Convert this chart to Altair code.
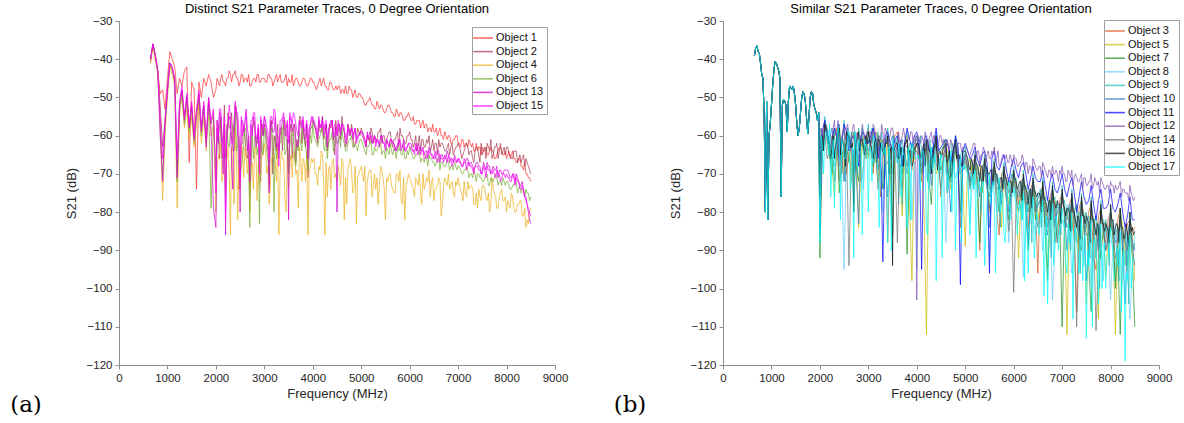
import altair as alt
import pandas as pd

# ---------------- frequency grids (MHz) ----------------
freq_low_a = list(range(650, 2000, 50))    # left panel, 27 pts
freq_low_b = list(range(650, 2000, 25))    # right panel, 54 pts
freq_high = list(range(2000, 8501, 100))   # 66 pts
freq_mid = list(range(2050, 8500, 100))    # 65 pts
freq_q = list(range(2025, 8500, 50))       # 130 pts

# ---------------- left panel: distinct traces ----------------
obj1_low = [-41, -36, -40, -43, -49, -48, -53, -45, -38, -40, -42, -49, -45, -47, -43, -42, -67, -46, -48, -74, -46, -50, -45, -47, -44, -46, -50]
obj1_high = [-48, -45, -47, -44, -43, -46, -45, -47, -45, -46,
             -45, -44, -46, -45, -46, -45, -47, -46, -45, -47,
             -46, -47, -46, -48, -47, -48, -48, -49, -48, -50,
             -50, -52, -51, -53, -52, -54, -53, -55, -54, -56,
             -55, -57, -56, -58, -58, -59, -59, -61, -60, -61,
             -62, -61, -63, -62, -64, -63, -65, -64, -65, -64,
             -66, -65, -67, -68, -70, -72]
obj1_mid = [-46, -46, -45, -44, -45, -44, -46, -46, -44, -45,
            -46, -45, -44, -46, -44, -46, -45, -47, -46, -45,
            -47, -45, -47, -46, -48, -47, -49, -47, -49, -49,
            -51, -51, -52, -52, -53, -52, -54, -54, -55, -55,
            -56, -56, -57, -57, -59, -58, -60, -60, -62, -60,
            -63, -62, -62, -64, -63, -64, -64, -66, -63, -65,
            -64, -66, -66, -69, -71]
obj1_q = [-45, -47, -44, -46, -45, -43, -46, -44, -45, -47, -44, -46, -45, -44, -47, -45, -46, -44, -46, -45,
          -46, -44, -45, -47, -45, -46, -44, -46, -45, -47, -46, -44, -46, -45, -47, -46, -45, -47, -46, -45,
          -46, -48, -46, -47, -45, -47, -48, -46, -48, -47, -47, -49, -48, -47, -49, -48, -50, -48, -50, -49,
          -50, -52, -51, -50, -52, -53, -51, -53, -52, -54, -53, -52, -54, -55, -53, -55, -54, -56, -55, -54,
          -56, -55, -57, -56, -58, -56, -57, -59, -58, -57, -59, -60, -58, -60, -59, -61, -60, -62, -61, -60,
          -62, -61, -63, -62, -61, -63, -64, -62, -63, -65, -64, -63, -65, -63, -64, -66, -64, -63, -65, -64,
          -65, -66, -64, -66, -67, -66, -68, -67, -70, -71]
obj2_low = [-40, -36, -39, -43, -52, -63, -56, -48, -41, -43, -45, -70, -52, -48, -55, -50, -57, -52, -60, -54, -49, -58, -52, -61, -50, -57, -54]
obj2_high = [-72, -55, -66, -58, -52, -70, -60, -76, -58, -68,
             -57, -73, -60, -66, -56, -69, -58, -63, -57, -71,
             -56, -62, -55, -64, -56, -60, -55, -62, -57, -61,
             -58, -63, -58, -61, -58, -62, -59, -61, -58, -62,
             -59, -62, -60, -63, -60, -64, -61, -63, -62, -65,
             -62, -65, -63, -66, -63, -65, -62, -66, -62, -65,
             -63, -66, -64, -67, -66, -70]
obj2_mid = [-58, -62, -54, -64, -57, -62, -66, -59, -62, -57,
            -62, -56, -64, -58, -61, -57, -67, -55, -63, -58,
            -58, -59, -60, -57, -65, -57, -59, -58, -63, -59,
            -60, -60, -62, -59, -60, -60, -63, -59, -60, -60,
            -61, -64, -61, -61, -63, -62, -62, -64, -63, -63,
            -64, -63, -64, -64, -67, -63, -64, -63, -64, -63,
            -65, -64, -66, -65, -68]
obj2_q = [-56, -66, -60, -52, -62, -58, -54, -64, -55, -74, -62, -57, -65, -60, -68, -56, -61, -58, -72, -60,
          -59, -64, -58, -70, -62, -57, -60, -64, -56, -62, -59, -66, -57, -61, -55, -62, -60, -57, -64, -58,
          -57, -60, -56, -59, -61, -57, -62, -58, -60, -56, -59, -61, -58, -63, -57, -60, -59, -62, -58, -60,
          -59, -61, -60, -62, -59, -60, -61, -59, -62, -60, -61, -59, -62, -61, -60, -63, -60, -61, -62, -60,
          -61, -63, -60, -62, -64, -61, -63, -62, -64, -61, -62, -65, -63, -62, -64, -63, -65, -62, -64, -63,
          -63, -66, -64, -62, -65, -64, -67, -63, -65, -62, -64, -66, -63, -61, -65, -63, -66, -62, -64, -65,
          -63, -65, -66, -64, -67, -65, -66, -68, -67, -69]
obj4_low = [-41, -37, -40, -44, -58, -77, -60, -50, -42, -44, -47, -79, -55, -50, -58, -53, -61, -55, -63, -57, -52, -62, -55, -64, -53, -60, -57]
obj4_high = [-80, -62, -75, -86, -58, -74, -63, -80, -64, -73,
             -62, -78, -65, -86, -66, -74, -64, -79, -66, -86,
             -67, -73, -65, -76, -67, -72, -66, -78, -69, -83,
             -68, -81, -69, -74, -68, -82, -70, -75, -69, -82,
             -71, -76, -70, -74, -69, -77, -71, -73, -70, -75,
             -71, -77, -72, -74, -79, -73, -77, -71, -79, -74,
             -80, -75, -80, -77, -84, -79]
obj4_mid = [-66, -70, -63, -68, -82, -64, -70, -67, -77, -65,
            -70, -66, -72, -64, -80, -65, -70, -66, -72, -68,
            -70, -69, -86, -68, -71, -70, -82, -67, -74, -70,
            -72, -70, -73, -78, -71, -72, -74, -70, -78, -72,
            -73, -72, -78, -71, -72, -74, -81, -72, -73, -72,
            -74, -75, -73, -78, -76, -74, -80, -75, -76, -77,
            -78, -79, -78, -81, -83]
obj4_q = [-68, -64, -72, -62, -66, -70, -63, -78, -65, -68, -62, -71, -66, -64, -69, -74, -63, -67, -70, -65,
          -64, -68, -73, -65, -67, -62, -70, -66, -76, -64, -68, -71, -65, -69, -63, -72, -67, -64, -70, -66,
          -66, -70, -68, -64, -72, -67, -69, -74, -66, -70, -68, -73, -67, -71, -69, -66, -75, -68, -71, -69,
          -70, -68, -72, -69, -76, -70, -71, -73, -69, -74, -71, -70, -73, -75, -70, -72, -77, -71, -73, -70,
          -72, -74, -71, -73, -75, -70, -73, -72, -76, -71, -74, -73, -72, -78, -71, -73, -74, -72, -76, -73,
          -73, -75, -72, -76, -74, -73, -78, -75, -74, -77, -73, -76, -75, -78, -74, -76, -79, -75, -77, -76,
          -77, -79, -76, -80, -78, -77, -81, -79, -82, -80]
obj6_low = [-40, -36, -39, -43, -56, -71, -58, -49, -41, -43, -46, -72, -53, -49, -57, -51, -59, -53, -62, -55, -50, -60, -53, -62, -52, -79, -56]
obj6_high = [-68, -56, -78, -59, -54, -71, -58, -84, -60, -83,
             -58, -70, -80, -62, -57, -70, -59, -64, -58, -69,
             -57, -63, -58, -66, -59, -62, -58, -64, -60, -63,
             -61, -65, -61, -64, -62, -66, -62, -64, -63, -66,
             -63, -66, -64, -67, -65, -67, -66, -68, -67, -69,
             -68, -70, -69, -71, -70, -72, -70, -72, -71, -73,
             -72, -74, -72, -75, -74, -76]
obj6_mid = [-60, -64, -62, -57, -62, -66, -63, -60, -65, -62,
            -64, -58, -66, -61, -64, -60, -68, -62, -63, -60,
            -61, -60, -64, -61, -63, -60, -62, -61, -63, -62,
            -63, -63, -65, -63, -64, -64, -65, -63, -65, -64,
            -65, -65, -66, -66, -66, -67, -67, -68, -68, -68,
            -69, -69, -70, -70, -71, -71, -73, -71, -72, -72,
            -73, -73, -74, -74, -75]
obj6_q = [-62, -58, -66, -60, -57, -63, -61, -59, -64, -60, -68, -62, -59, -64, -61, -66, -60, -63, -58, -65,
          -61, -66, -59, -63, -60, -64, -62, -58, -65, -61, -63, -60, -66, -62, -59, -64, -61, -65, -60, -62,
          -60, -62, -61, -59, -63, -60, -62, -61, -64, -60, -62, -63, -61, -64, -62, -61, -63, -62, -64, -61,
          -62, -64, -63, -62, -65, -63, -64, -62, -65, -64, -63, -65, -64, -63, -66, -64, -65, -63, -66, -65,
          -64, -66, -65, -64, -67, -66, -65, -68, -66, -67, -68, -66, -69, -67, -68, -66, -69, -68, -67, -69,
          -68, -70, -69, -68, -71, -70, -69, -72, -70, -71, -72, -70, -73, -71, -72, -70, -73, -72, -71, -73,
          -72, -74, -73, -72, -75, -73, -74, -76, -75, -77]
obj13_low = [-40, -36, -39, -43, -60, -72, -57, -48, -41, -42, -46, -71, -52, -48, -56, -50, -58, -52, -61, -54, -49, -59, -52, -63, -51, -58, -79]
obj13_high = [-84, -54, -86, -56, -52, -80, -57, -72, -56, -66,
              -55, -75, -59, -64, -55, -82, -57, -62, -56, -66,
              -55, -61, -55, -63, -56, -80, -57, -62, -58, -61,
              -59, -63, -60, -62, -60, -64, -61, -63, -61, -64,
              -62, -64, -63, -65, -63, -66, -64, -66, -65, -67,
              -66, -68, -66, -68, -67, -69, -67, -69, -68, -70,
              -69, -71, -70, -73, -76, -83]
obj13_mid = [-62, -70, -58, -74, -60, -56, -64, -60, -62, -58,
             -60, -57, -63, -58, -60, -56, -61, -57, -60, -57,
             -58, -57, -59, -57, -60, -57, -59, -60, -60, -60,
             -61, -61, -61, -61, -62, -62, -62, -62, -63, -63,
             -63, -64, -64, -64, -65, -65, -65, -66, -66, -66,
             -67, -67, -67, -68, -68, -68, -68, -69, -69, -69,
             -70, -70, -72, -74, -80]
obj13_q = [-58, -54, -64, -57, -60, -55, -68, -58, -53, -61, -56, -59, -54, -62, -57, -55, -63, -58, -56, -60,
           -57, -61, -56, -59, -55, -62, -58, -56, -60, -57, -55, -59, -57, -63, -56, -58, -61, -57, -59, -56,
           -57, -59, -56, -58, -60, -57, -59, -56, -61, -58, -57, -60, -58, -62, -57, -59, -61, -58, -60, -59,
           -60, -62, -59, -61, -62, -60, -61, -63, -60, -62, -61, -63, -61, -62, -64, -62, -63, -61, -64, -62,
           -62, -64, -63, -62, -65, -63, -64, -66, -64, -65, -66, -64, -67, -65, -66, -64, -67, -66, -65, -67,
           -66, -68, -67, -66, -68, -67, -69, -67, -68, -70, -67, -69, -68, -70, -68, -69, -71, -69, -70, -69,
           -69, -71, -70, -72, -71, -73, -72, -76, -78, -82]
obj15_low = [-40, -36, -39, -43, -55, -66, -56, -48, -41, -42, -45, -66, -51, -47, -55, -49, -57, -51, -60, -53, -48, -58, -51, -61, -50, -56, -53]
obj15_high = [-75, -53, -82, -55, -51, -72, -56, -68, -54, -70,
              -55, -66, -53, -68, -54, -62, -54, -60, -55, -63,
              -56, -60, -56, -61, -56, -60, -57, -61, -58, -62,
              -59, -62, -60, -63, -61, -63, -61, -64, -62, -64,
              -63, -65, -63, -66, -64, -66, -65, -67, -65, -67,
              -66, -68, -67, -69, -68, -70, -68, -70, -69, -71,
              -70, -72, -71, -74, -77, -81]
obj15_mid = [-60, -66, -57, -62, -54, -60, -58, -56, -60, -57,
             -58, -55, -60, -56, -58, -55, -57, -56, -58, -57,
             -57, -58, -57, -58, -57, -58, -58, -59, -59, -60,
             -60, -61, -61, -62, -62, -62, -62, -63, -63, -63,
             -64, -64, -64, -65, -65, -66, -66, -66, -66, -67,
             -67, -67, -68, -68, -69, -69, -69, -70, -70, -70,
             -71, -71, -72, -75, -79]
obj15_q = [-56, -53, -60, -55, -58, -52, -62, -56, -54, -59, -55, -57, -53, -60, -56, -54, -61, -57, -55, -58,
           -56, -59, -55, -57, -54, -60, -56, -55, -58, -56, -54, -57, -55, -59, -56, -57, -59, -56, -58, -55,
           -56, -58, -55, -57, -59, -56, -58, -57, -60, -57, -56, -59, -57, -60, -58, -59, -60, -58, -61, -59,
           -59, -61, -60, -59, -62, -60, -61, -62, -60, -62, -61, -63, -61, -62, -63, -61, -64, -62, -63, -62,
           -63, -64, -62, -65, -63, -64, -66, -64, -65, -66, -64, -67, -65, -66, -65, -67, -66, -68, -66, -67,
           -67, -68, -66, -69, -67, -68, -70, -68, -69, -70, -68, -71, -69, -70, -69, -71, -70, -72, -70, -71,
           -71, -72, -70, -73, -72, -74, -73, -76, -78, -80]

names_a = ["Object 1", "Object 2", "Object 4", "Object 6", "Object 13", "Object 15"]
colors_a = ["#ff3030", "#a8384f", "#edb120", "#77ac30", "#d000d0", "#ff00ff"]
lows_a = [obj1_low, obj2_low, obj4_low, obj6_low, obj13_low, obj15_low]
highs_a = [obj1_high, obj2_high, obj4_high, obj6_high, obj13_high, obj15_high]
mids_a = [obj1_mid, obj2_mid, obj4_mid, obj6_mid, obj13_mid, obj15_mid]
qs_a = [obj1_q, obj2_q, obj4_q, obj6_q, obj13_q, obj15_q]

# ---------------- right panel: similar traces ----------------
common_low_b = [-39, -37, -36.5, -38, -38.5, -41, -44, -45, -55, -80,
                -51, -82, -60, -57, -52, -47, -43, -40.5, -41, -42,
                -43, -45, -76, -52, -50.5, -51, -52, -59, -51, -47,
                -47.5, -48, -47, -49, -52, -57, -60, -58, -54, -50,
                -48.5, -49, -51, -55.5, -59.5, -55, -50, -48.5, -49, -52,
                -53, -54, -56, -54]
obj3_high = [-86, -56, -66, -60, -72, -57, -64, -78, -59, -68,
             -58, -70, -60, -66, -88, -62, -59, -74, -61, -69,
             -60, -72, -62, -67, -61, -76, -63, -68, -62, -84,
             -65, -72, -66, -90, -67, -74, -68, -86, -69, -75,
             -70, -78, -71, -84, -72, -96, -73, -80, -74, -88,
             -75, -82, -76, -106, -77, -84, -78, -95, -79, -88,
             -80, -98, -79, -86, -82, -84]
obj3_mid = [-60, -62, -65, -58, -61, -70, -60, -62, -72, -61,
            -63, -59, -76, -61, -64, -60, -68, -62, -65, -62,
            -65, -64, -70, -63, -66, -65, -74, -64, -67, -66,
            -68, -67, -74, -68, -70, -69, -80, -70, -72, -71,
            -73, -72, -76, -74, -78, -75, -84, -76, -79, -77,
            -80, -78, -88, -79, -82, -80, -92, -81, -84, -82,
            -86, -82, -90, -83, -85]
obj5_high = [-82, -57, -63, -76, -58, -70, -61, -65, -84, -60,
             -66, -59, -72, -63, -60, -70, -64, -81, -60, -98,
             -62, -68, -112, -63, -70, -65, -61, -74, -64, -71,
             -89, -66, -73, -67, -70, -80, -68, -74, -70, -78,
             -71, -92, -72, -76, -73, -82, -74, -95, -75, -80,
             -76, -112, -78, -86, -77, -104, -79, -90, -80, -97,
             -81, -112, -80, -92, -83, -98]
obj5_mid = [-61, -60, -68, -62, -64, -59, -72, -63, -66, -62,
            -62, -65, -61, -68, -63, -66, -70, -62, -78, -64,
            -65, -80, -64, -66, -68, -63, -67, -69, -66, -73,
            -68, -70, -69, -75, -70, -72, -71, -84, -72, -74,
            -74, -77, -73, -80, -75, -78, -76, -84, -77, -80,
            -79, -82, -80, -90, -81, -85, -82, -108, -83, -86,
            -85, -88, -84, -96, -86]
obj7_high = [-92, -60, -65, -58, -75, -62, -67, -59, -72, -63,
             -61, -68, -60, -74, -62, -86, -63, -70, -91, -62,
             -64, -70, -63, -78, -62, -69, -65, -72, -64, -80,
             -67, -73, -68, -88, -69, -76, -70, -80, -71, -82,
             -72, -80, -73, -90, -74, -78, -75, -98, -76, -84,
             -110, -79, -85, -78, -90, -80, -106, -81, -92, -82,
             -83, -100, -112, -86, -84, -110]
obj7_mid = [-64, -61, -70, -60, -66, -63, -61, -68, -62, -66,
            -63, -64, -68, -62, -66, -64, -67, -63, -68, -64,
            -66, -65, -71, -64, -67, -66, -70, -65, -68, -67,
            -69, -70, -72, -71, -74, -72, -75, -73, -77, -74,
            -76, -75, -80, -76, -82, -77, -85, -78, -88, -80,
            -82, -84, -80, -88, -82, -94, -83, -86, -84, -88,
            -86, -90, -88, -94, -92]
obj8_high = [-80, -62, -58, -68, -61, -95, -59, -66, -63, -74,
             -60, -67, -62, -80, -61, -70, -63, -66, -64, -82,
             -95, -64, -70, -63, -68, -65, -88, -66, -71, -65,
             -68, -83, -69, -75, -70, -92, -71, -76, -72, -88,
             -73, -79, -97, -74, -81, -75, -90, -76, -103, -77,
             -82, -78, -96, -79, -88, -80, -100, -81, -86, -82,
             -103, -83, -90, -84, -108, -86]
obj8_mid = [-63, -60, -64, -62, -70, -61, -64, -60, -66, -62,
            -63, -61, -68, -62, -65, -63, -72, -64, -66, -67,
            -68, -66, -74, -64, -67, -66, -70, -67, -68, -69,
            -70, -71, -76, -72, -74, -73, -80, -74, -76, -75,
            -77, -78, -82, -79, -86, -80, -84, -81, -90, -82,
            -84, -86, -90, -84, -94, -85, -88, -86, -98, -87,
            -88, -92, -89, -96, -94]
obj9_high = [-86, -55, -63, -59, -67, -56, -62, -70, -58, -65,
             -57, -64, -59, -72, -58, -63, -60, -78, -59, -66,
             -60, -65, -61, -70, -59, -64, -62, -68, -60, -66,
             -63, -70, -64, -74, -65, -71, -66, -78, -67, -72,
             -68, -74, -69, -80, -70, -76, -71, -84, -72, -78,
             -73, -80, -74, -88, -75, -82, -76, -92, -77, -84,
             -78, -86, -79, -94, -80, -88]
obj9_mid = [-60, -58, -62, -61, -60, -66, -59, -62, -61, -60,
            -61, -60, -63, -61, -66, -62, -64, -63, -62, -61,
            -62, -63, -64, -62, -66, -63, -65, -64, -63, -64,
            -66, -67, -68, -69, -68, -70, -70, -71, -72, -70,
            -71, -72, -73, -74, -75, -74, -76, -77, -76, -78,
            -77, -78, -79, -80, -80, -81, -82, -83, -82, -84,
            -82, -84, -86, -85, -88]
obj9_q = [-58, -64, -57, -62, -68, -59, -63, -57, -66, -60, -72, -58, -62, -65, -59, -70, -61, -58, -64, -60,
          -62, -58, -67, -60, -64, -59, -74, -61, -63, -66, -60, -62, -78, -61, -65, -60, -68, -62, -64, -61,
          -63, -60, -66, -62, -72, -61, -64, -67, -62, -70, -63, -61, -75, -64, -62, -68, -63, -66, -64, -69,
          -65, -70, -66, -74, -67, -69, -80, -68, -72, -70, -76, -69, -73, -71, -84, -70, -74, -72, -78, -71,
          -72, -76, -73, -82, -74, -77, -75, -88, -74, -79, -76, -84, -77, -80, -78, -92, -77, -82, -79, -86,
          -78, -84, -80, -90, -79, -86, -81, -96, -80, -85, -82, -92, -81, -88, -83, -100, -82, -87, -84, -94,
          -83, -90, -85, -98, -84, -92, -86, -104, -85, -90]
obj10_high = [-84, -58, -61, -65, -57, -72, -60, -64, -83, -61,
              -64, -58, -69, -62, -76, -60, -66, -61, -70, -63,
              -61, -68, -62, -73, -60, -66, -63, -80, -62, -69,
              -65, -72, -66, -70, -67, -84, -68, -73, -69, -80,
              -70, -76, -71, -88, -72, -78, -73, -86, -74, -80,
              -75, -90, -76, -83, -77, -98, -78, -85, -79, -90,
              -80, -88, -81, -104, -82, -90]
obj10_mid = [-64, -60, -58, -62, -66, -61, -63, -70, -60, -62,
             -61, -63, -64, -68, -62, -64, -63, -66, -64, -62,
             -64, -63, -66, -64, -68, -65, -70, -66, -65, -67,
             -68, -69, -70, -72, -71, -74, -72, -78, -73, -74,
             -75, -74, -78, -76, -80, -77, -82, -78, -84, -79,
             -80, -82, -81, -86, -82, -88, -83, -90, -84, -86,
             -85, -87, -90, -86, -88]
obj11_high = [-70, -56, -62, -58, -66, -57, -64, -60, -68, -59,
              -62, -58, -66, -93, -59, -64, -60, -68, -58, -63,
              -59, -95, -60, -66, -58, -63, -61, -67, -60, -99,
              -62, -66, -63, -68, -64, -96, -64, -69, -65, -72,
              -66, -71, -67, -74, -68, -72, -69, -77, -70, -75,
              -70, -76, -71, -80, -72, -78, -73, -82, -74, -79,
              -74, -80, -75, -84, -76, -82]
obj11_mid = [-59, -60, -61, -60, -62, -59, -61, -63, -60, -62,
             -60, -61, -62, -60, -62, -61, -63, -62, -61, -60,
             -62, -61, -63, -62, -64, -62, -63, -64, -63, -64,
             -64, -65, -66, -65, -67, -66, -68, -67, -69, -68,
             -69, -68, -70, -71, -71, -72, -73, -72, -74, -73,
             -74, -73, -75, -76, -76, -77, -78, -77, -79, -78,
             -79, -78, -80, -81, -82]
obj12_high = [-74, -57, -63, -56, -68, -58, -62, -57, -64, -59,
              -60, -57, -65, -59, -62, -58, -67, -60, -63, -59,
              -103, -60, -64, -59, -62, -60, -65, -61, -63, -62,
              -63, -65, -62, -67, -64, -66, -63, -68, -65, -67,
              -65, -68, -66, -70, -66, -69, -67, -71, -68, -70,
              -68, -72, -69, -71, -70, -73, -70, -72, -71, -74,
              -72, -73, -72, -75, -73, -76]
obj12_mid = [-60, -59, -61, -60, -62, -58, -61, -60, -61, -60,
             -59, -60, -61, -58, -60, -61, -62, -60, -61, -60,
             -61, -62, -61, -60, -62, -61, -62, -63, -62, -63,
             -64, -63, -64, -65, -65, -64, -66, -66, -65, -66,
             -66, -67, -67, -68, -68, -68, -69, -69, -70, -69,
             -70, -70, -71, -72, -71, -72, -73, -72, -73, -73,
             -73, -74, -74, -75, -76]
obj12_q = [-58, -61, -57, -60, -63, -58, -60, -56, -62, -59, -61, -57, -64, -58, -60, -59, -62, -57, -61, -59,
           -59, -62, -58, -61, -60, -57, -63, -59, -61, -58, -60, -62, -59, -61, -58, -63, -60, -59, -62, -60,
           -60, -62, -61, -59, -63, -60, -62, -61, -64, -60, -62, -63, -61, -64, -62, -63, -65, -62, -64, -63,
           -63, -65, -64, -62, -66, -64, -65, -63, -67, -64, -66, -65, -67, -64, -68, -65, -66, -67, -65, -68,
           -66, -68, -67, -65, -69, -67, -68, -70, -67, -69, -68, -71, -68, -70, -69, -71, -70, -69, -72, -70,
           -70, -72, -69, -71, -73, -70, -72, -71, -74, -71, -73, -72, -74, -71, -73, -75, -72, -74, -73, -75,
           -73, -75, -74, -73, -76, -74, -75, -77, -75, -77]
obj14_high = [-78, -60, -64, -72, -58, -63, -94, -60, -66, -62,
              -65, -60, -74, -61, -67, -62, -88, -63, -68, -64,
              -62, -70, -63, -66, -62, -74, -64, -68, -63, -70,
              -66, -74, -67, -76, -68, -79, -69, -74, -70, -85,
              -101, -74, -72, -80, -73, -84, -74, -82, -75, -88,
              -76, -84, -77, -110, -78, -86, -79, -111, -80, -90,
              -81, -92, -82, -88, -83, -94]
obj14_mid = [-62, -66, -60, -64, -70, -62, -65, -63, -61, -64,
             -62, -64, -63, -68, -64, -66, -65, -64, -66, -65,
             -65, -64, -67, -65, -68, -66, -70, -66, -67, -68,
             -69, -70, -71, -72, -73, -72, -74, -73, -76, -74,
             -78, -76, -77, -79, -78, -80, -79, -82, -80, -83,
             -81, -83, -82, -88, -83, -86, -84, -92, -85, -88,
             -86, -88, -87, -90, -89]
obj16_high = [-76, -57, -62, -66, -58, -64, -60, -80, -59, -63,
              -59, -66, -61, -64, -60, -94, -62, -66, -61, -68,
              -62, -66, -61, -70, -60, -65, -62, -71, -61, -67,
              -64, -69, -65, -72, -66, -70, -67, -74, -68, -72,
              -69, -73, -70, -78, -71, -75, -72, -80, -73, -77,
              -74, -79, -75, -84, -76, -81, -77, -86, -78, -83,
              -78, -84, -79, -86, -80, -85]
obj16_mid = [-60, -59, -63, -61, -62, -59, -63, -62, -61, -60,
             -62, -61, -63, -62, -64, -63, -65, -62, -64, -63,
             -63, -62, -64, -63, -65, -63, -66, -64, -65, -64,
             -66, -67, -68, -68, -69, -69, -70, -71, -71, -72,
             -72, -72, -74, -74, -75, -76, -77, -77, -78, -78,
             -79, -80, -80, -82, -81, -83, -82, -84, -83, -85,
             -82, -84, -84, -86, -84]
obj16_q = [-60, -64, -58, -62, -66, -60, -63, -59, -65, -61, -68, -60, -63, -62, -66, -60, -64, -61, -65, -62,
           -61, -64, -62, -67, -61, -63, -65, -62, -70, -63, -64, -62, -66, -63, -68, -62, -65, -64, -67, -63,
           -62, -65, -63, -68, -62, -64, -66, -63, -69, -64, -65, -63, -67, -64, -70, -63, -66, -65, -68, -64,
           -65, -68, -66, -70, -67, -69, -68, -72, -68, -70, -69, -73, -70, -72, -71, -74, -71, -73, -72, -75,
           -71, -74, -72, -77, -73, -75, -74, -79, -74, -76, -75, -80, -76, -78, -77, -82, -77, -79, -78, -83,
           -78, -81, -79, -85, -80, -82, -81, -87, -81, -83, -82, -88, -82, -84, -83, -89, -83, -85, -84, -88,
           -82, -86, -83, -88, -84, -87, -83, -89, -85, -86]
obj17_high = [-88, -62, -57, -79, -60, -66, -59, -92, -61, -68,
              -80, -60, -70, -62, -88, -61, -67, -63, -84, -62,
              -66, -64, -85, -63, -98, -65, -70, -64, -90, -66,
              -68, -86, -69, -74, -94, -70, -76, -71, -86, -72,
              -74, -80, -75, -96, -76, -82, -77, -104, -78, -84,
              -79, -96, -80, -88, -81, -113, -82, -90, -83, -100,
              -84, -96, -85, -119, -86, -92]
obj17_mid = [-63, -59, -66, -62, -61, -64, -72, -62, -65, -63,
             -64, -62, -66, -63, -70, -64, -66, -65, -68, -64,
             -66, -65, -70, -66, -68, -67, -74, -67, -69, -68,
             -70, -72, -74, -73, -78, -74, -82, -75, -79, -76,
             -78, -80, -82, -81, -86, -82, -90, -83, -88, -84,
             -85, -88, -86, -96, -87, -94, -88, -104, -89, -92,
             -90, -94, -92, -98, -95]
obj17_q = [-60, -70, -59, -65, -76, -61, -64, -58, -82, -62, -66, -60, -74, -63, -59, -68, -62, -86, -61, -64,
           -63, -72, -61, -66, -84, -62, -65, -70, -63, -90, -64, -67, -62, -76, -65, -68, -63, -82, -64, -66,
           -65, -74, -64, -68, -86, -66, -69, -65, -78, -67, -92, -66, -70, -68, -80, -67, -72, -69, -88, -68,
           -69, -78, -70, -74, -92, -71, -75, -72, -86, -73, -78, -72, -96, -74, -80, -75, -88, -74, -82, -76,
           -76, -86, -77, -82, -98, -78, -84, -79, -92, -80, -86, -79, -102, -81, -88, -82, -94, -81, -90, -83,
           -82, -94, -83, -88, -108, -84, -92, -85, -98, -86, -90, -85, -110, -87, -94, -86, -100, -88, -92, -87,
           -88, -98, -89, -94, -106, -90, -96, -88, -100, -92]

names_b = ["Object 3", "Object 5", "Object 7", "Object 8", "Object 9", "Object 10",
           "Object 11", "Object 12", "Object 14", "Object 16", "Object 17"]
colors_b = ["#d95319", "#ccbb00", "#209020", "#66ccff", "#20b8b8", "#2878c0",
            "#0000ff", "#8050b0", "#707070", "#101010", "#00ffff"]
highs_b = [obj3_high, obj5_high, obj7_high, obj8_high, obj9_high, obj10_high,
           obj11_high, obj12_high, obj14_high, obj16_high, obj17_high]
mids_b = [obj3_mid, obj5_mid, obj7_mid, obj8_mid, obj9_mid, obj10_mid,
          obj11_mid, obj12_mid, obj14_mid, obj16_mid, obj17_mid]
qs_b = [None, None, None, None, obj9_q, None, None, obj12_q, None, obj16_q, obj17_q]

FONT = "Liberation Sans"
OPA = 0.7


def panel(names, colors, lows, highs, mids, qs, freq_low, title, lx, ly, tag):
    x_enc = alt.X("freq:Q", scale=alt.Scale(domain=[0, 9000], nice=False),
                  axis=alt.Axis(values=list(range(0, 9001, 1000)), format="d", labelFlush=False,
                                title="Frequency (MHz)"))
    y_enc = alt.Y("val:Q", scale=alt.Scale(domain=[-120, -30], nice=False),
                  axis=alt.Axis(values=list(range(-120, -29, 10)), format="d", title="S21 (dB)"))
    c_enc = alt.Color("obj:N", scale=alt.Scale(domain=names, range=colors),
                      legend=alt.Legend(orient="none", legendX=lx, legendY=ly, title=None,
                                        fillColor="white", strokeColor="#a0a0a0", padding=3,
                                        labelFont=FONT, labelFontSize=11, labelColor="#111111",
                                        symbolType="M-1.45,0H1.45", symbolSize=185,
                                        symbolStrokeWidth=1.6, symbolFillColor="transparent",
                                        symbolOpacity=OPA, rowPadding=0.6, labelOffset=5))
    layers = []
    for i, n in enumerate(names):
        fr = freq_low + freq_high + freq_mid
        vals = lows[i] + highs[i] + mids[i]
        if qs[i] is not None:
            fr = fr + freq_q
            vals = vals + qs[i]
        df = pd.DataFrame({"freq": fr, "val": vals, "obj": n}).sort_values("freq")
        layers.append(alt.Chart(df).mark_line(strokeWidth=1.0, opacity=OPA, clip=True)
                      .encode(x=x_enc, y=y_enc, color=c_enc))
    tag_layer = alt.Chart(pd.DataFrame({"t": [tag]})).mark_text(
        font="DejaVu Serif", fontSize=23, align="center", baseline="middle", color="black"
    ).encode(text="t:N", x=alt.value(-93), y=alt.value(384))
    return alt.layer(*layers, tag_layer).properties(
        width=436, height=344,
        title=alt.TitleParams(title, font=FONT, fontSize=13, fontWeight="normal",
                              color="black", offset=-1, anchor="middle"))


left = panel(names_a, colors_a, lows_a, highs_a, mids_a, qs_a, freq_low_a,
             "Distinct S21 Parameter Traces, 0 Degree Orientation", 353, 6, "(a)")
right = panel(names_b, colors_b, [common_low_b] * len(names_b), highs_b, mids_b, qs_b, freq_low_b,
              "Similar S21 Parameter Traces, 0 Degree Orientation", 381, -1, "(b)")

chart = alt.hconcat(left, right, spacing=168, bounds="flush").resolve_scale(
    color="independent"
).configure_view(
    strokeWidth=0
).configure_axis(
    grid=False, domainColor="#8c8c8c", tickColor="#8c8c8c", tickSize=4,
    labelFont=FONT, labelFontSize=11.5, labelColor="#262626",
    titleFont=FONT, titleFontSize=13, titleFontWeight="normal", titleColor="#262626",
    labelPadding=3
).configure_axisY(titlePadding=8).configure_axisX(titlePadding=4).properties(
    padding={"left": 10, "top": 3, "right": 0, "bottom": 0}
)

chart.save("out.html", embed_options={"renderer": "svg", "actions": False})
